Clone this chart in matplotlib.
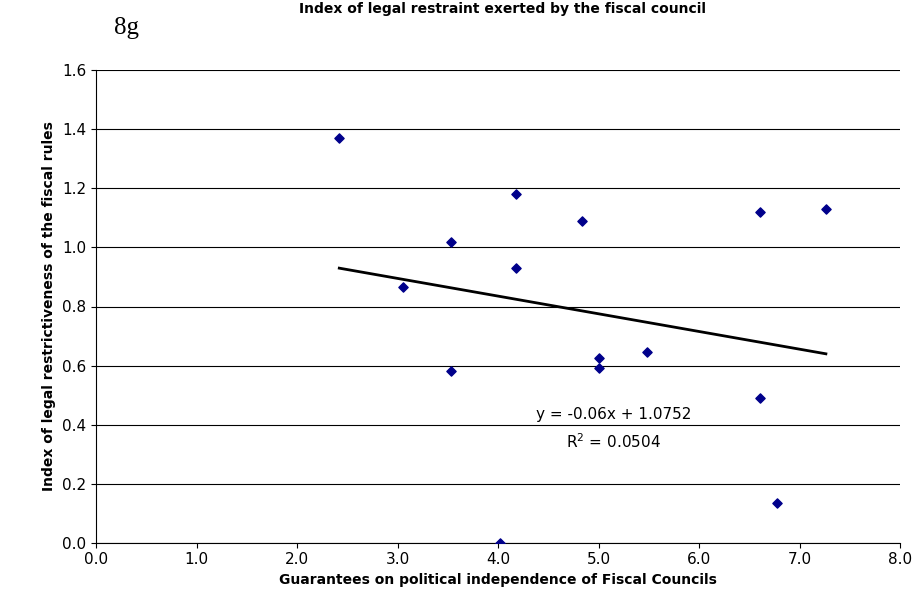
import matplotlib
matplotlib.use("Agg")
import matplotlib.pyplot as plt
import numpy as np

x = [2.42, 3.05, 3.53, 3.53, 4.02, 4.18, 4.18, 4.83, 5.0, 5.0, 5.48, 6.6, 6.6, 6.77, 7.26]
y = [1.37, 0.865, 1.02, 0.58, 0.0, 1.18, 0.93, 1.09, 0.625, 0.59, 0.645, 1.12, 0.49, 0.135, 1.13]
slope, intercept = -0.06, 1.0752

fig = plt.figure(figsize=(9.14, 6.13), dpi=100)
ax = fig.add_axes([0.105, 0.115, 0.88, 0.77])
ax.set_xlim(0, 8); ax.set_ylim(0, 1.6)
ax.set_xticks(np.arange(0, 8.01, 1.0)); ax.set_yticks(np.arange(0, 1.61, 0.2))
ax.set_xticklabels([f"{v:.1f}" for v in np.arange(0, 8.01, 1.0)])
ax.set_yticklabels([f"{v:.1f}" for v in np.arange(0, 1.61, 0.2)])
ax.yaxis.grid(True, color="black", lw=0.8)
ax.set_axisbelow(True)
for s in ["top", "right"]:
    ax.spines[s].set_visible(False)
ax.tick_params(labelsize=11, direction="out")
ax.scatter(x, y, marker="D", s=22, color="#00008B", zorder=3)
xl = np.array([min(x), max(x)])
ax.plot(xl, slope * xl + intercept, color="black", lw=2)
ax.text(5.15, 0.42, "y = -0.06x + 1.0752", ha="center", fontsize=11)
ax.text(5.15, 0.32, "R$^2$ = 0.0504", ha="center", fontsize=11)
ax.set_xlabel("Guarantees on political independence of Fiscal Councils", fontsize=10, fontweight="bold")
ax.set_ylabel("Index of legal restrictiveness of the fiscal rules", fontsize=10, fontweight="bold")
fig.text(0.55, 0.985, "Index of legal restraint exerted by the fiscal council", ha="center", va="center", fontsize=10, fontweight="bold")
fig.text(0.125, 0.955, "8g", fontsize=18, family="Liberation Serif", va="center")
fig.savefig("out.png", dpi=100)
